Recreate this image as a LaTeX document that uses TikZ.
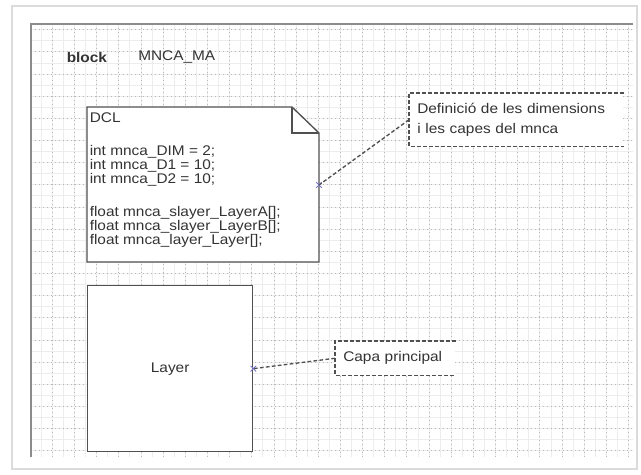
\documentclass[tikz,border=0pt]{standalone}
\usepackage{fontspec}
\setmainfont[FakeStretch=1.1]{Liberation Sans}
\usetikzlibrary{shapes.misc}
\definecolor{ink}{HTML}{333333}
\definecolor{edge}{HTML}{505050}
\definecolor{portblue}{HTML}{7777CC}
\setlength{\lineskiplimit}{-100pt}

\begin{document}
\begin{tikzpicture}[x=0.75pt, y=-0.75pt,
  every node/.style={text=ink},
  txt/.style={font=\fontsize{10.5}{15.5}\selectfont, inner sep=0pt},
  code/.style={txt, font=\fontsize{10.5}{10.4}\selectfont, align=left},
  part/.style={draw=edge, line width=1pt, fill=white},
  remark/.style={txt, fill=white, align=left, inner xsep=6pt, inner ysep=0pt, anchor=north west},
  rim/.style={draw=edge, dash pattern=on 2.8pt off 1.7pt, line width=0.9pt},
  link/.style={draw=edge, dash pattern=on 2.8pt off 1.7pt, line width=1pt},
  port/.style={cross out, draw=portblue, line width=0.7pt, minimum size=3.5pt, inner sep=0pt},
  gridfine/.style={draw=black!7, line width=0.35pt},
  griddot/.style={draw=black!28, line width=0.35pt, dash pattern=on 1pt off 2pt}
]
  \useasboundingbox (0,0) rectangle (641,474);
  \fill[white] (0,0) rectangle (641,474);

  % page
  \draw[black!14, line width=1.5pt, fill=white] (12,6) rectangle (637,469);

  % drawing grid
  \foreach \k in {1,...,54}
    \draw[gridfine] ({30+11.08*\k},24) -- ({30+11.08*\k},457);
  \foreach \k in {0,...,38}
    \draw[gridfine] (31,{29.5+11.08*\k}) -- (633,{29.5+11.08*\k});
  \foreach \k in {2,4,...,54}
    \draw[griddot] ({30+11.08*\k},24) -- ({30+11.08*\k},457);
  \foreach \k in {0,2,...,38}
    \draw[griddot] (31,{29.5+11.08*\k}) -- (633,{29.5+11.08*\k});
  \draw[black!45, line width=0.8pt] (31,457) -- (31,24) -- (633,24);

  % header
  \node[txt, anchor=west, font=\fontsize{10.5}{12}\selectfont\bfseries] (kw) at (66.5,57) {block};
  \node[txt, anchor=west] (name) at (138,57) {MNCA\_MA};

  % DCL note
  \draw[part] (87,107) -- (292,107) -- (319,133) -- (319,262) -- (87,262) -- cycle;
  \draw[part, fill=none] (292,107) -- (292,133) -- (319,133);
  \node[code, anchor=north west] (dcl) at (89.5,112.7)
    {DCL\\[14pt]
     int mnca\_DIM = 2;\\
     int mnca\_D1 = 10;\\
     int mnca\_D2 = 10;\\[15pt]
     float mnca\_slayer\_LayerA[];\\
     float mnca\_slayer\_LayerB[];\\
     float mnca\_layer\_Layer[];};
  \node[port] (dclport) at (319,185) {};

  % comment on DCL
  \node[remark, minimum width=160.5pt, minimum height=39.75pt, text width=148.5pt] (defnote) at (409,93)
    {Definició de les dimensions\\i les capes del mnca};
  \draw[rim] (defnote.north east) -- (defnote.north west) -- (defnote.south west) -- (defnote.south east);
  \draw[link] (defnote.west) -- (dclport.center);

  % Layer part
  \node[part, txt, minimum width=123.75pt, minimum height=124.5pt, anchor=north west] (layer) at (87,285) {Layer};
  \node[port] (layerport) at (layer.east) {};

  % comment on Layer
  \node[remark, minimum width=90pt, minimum height=25.5pt, text width=78pt] (capa) at (335,341) {Capa principal};
  \draw[rim] (capa.north east) -- (capa.north west) -- (capa.south west) -- (capa.south east);
  \draw[link] (capa.west) -- (layerport.center);
\end{tikzpicture}
\end{document}
